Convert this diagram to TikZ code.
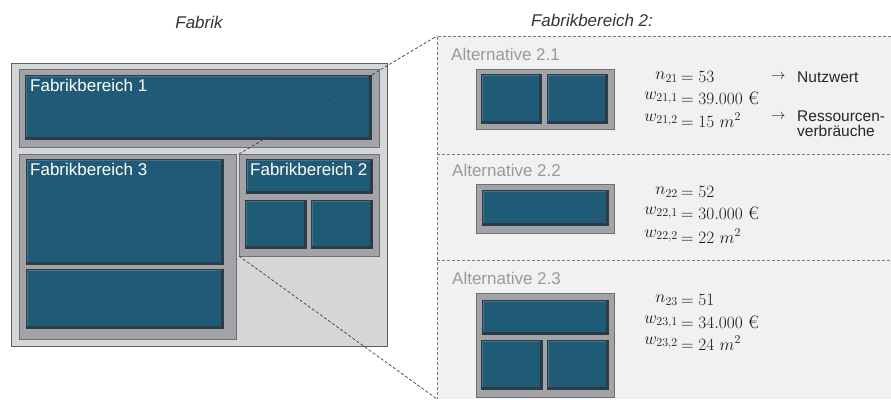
\documentclass[tikz,border=0pt]{standalone}
\usepackage{fontspec}
\newfontfamily\arial{Liberation Sans}
\definecolor{factbg}{HTML}{D5D6D8}
\definecolor{factdraw}{HTML}{5E5F62}
\definecolor{framefill}{HTML}{A2A3A7}
\definecolor{framedraw}{HTML}{6F7074}
\definecolor{tileblue}{HTML}{1F5A76}
\definecolor{tiledark}{HTML}{2E3A44}
\definecolor{tilelight}{HTML}{3E7490}
\definecolor{panelbg}{HTML}{F1F1F1}
\definecolor{altgray}{HTML}{9A9A9A}
\definecolor{dashgray}{HTML}{7A7A7A}
\newcommand\tile[4]{%
  \fill[tiledark] (#1,#2) rectangle (#3,#4);
  \fill[tilelight] ({#1+1},{#2+1}) rectangle ({#3-3},{#4-3});
  \fill[tileblue] ({#1+2},{#2+2}) rectangle ({#3-3},{#4-3});
}
\newcommand\frm[4]{%
  \filldraw[fill=framefill, draw=framedraw, line width=0.8pt] (#1,#2) rectangle (#3,#4);
}
\newcommand\mrow[4]{% y, lhs, rhs, name
  \node[anchor=east, inner sep=0pt, mtext] (#4l) at (678,#1) {$#2$};
  \node[anchor=west, inner sep=0pt, mtext] (#4r) at (681,#1) {$=#3$};
}
\tikzset{
  mtext/.style={font=\fontsize{18}{21}\selectfont, text=black!90},
  flabel/.style={font=\arial\fontsize{17}{20}\selectfont, text=white, anchor=west, inner sep=0pt},
  alabel/.style={font=\arial\fontsize{17}{20}\selectfont, text=altgray, anchor=west, inner sep=0pt},
  title/.style={font=\arial\itshape\fontsize{17}{20}\selectfont, text=black!80, inner sep=0pt},
  note/.style={font=\arial\fontsize{15.5}{17}\selectfont, text=black!85, anchor=west, inner sep=0pt},
  zoomline/.style={draw=black!75, line width=0.7pt, dash pattern=on 3pt off 2pt},
  panelline/.style={draw=dashgray, line width=0.6pt, dash pattern=on 3pt off 2pt},
}
\begin{document}
\begin{tikzpicture}[x=1pt,y=-1pt]
\useasboundingbox (0,0) rectangle (891,399);
% titles
\node[title] (tfab) at (199,22) {Fabrik};
\node[title] (tfb2) at (592,20) {Fabrikbereich 2:};
% right panel
\fill[panelbg] (437,36) rectangle (891,399);
\draw[panelline] (891,36) -- (437,36) -- (437,399);
\draw[panelline] (437,154) -- (891,154);
\draw[panelline] (437,260) -- (891,260);
% factory
\filldraw[fill=factbg, draw=factdraw, line width=0.8pt] (11,63) rectangle (387,346);
% Fabrikbereich 1
\frm{19}{69}{379}{147}
\tile{25}{75}{372}{140}
\node[flabel] (fb1) at (30,85) {Fabrikbereich 1};
% Fabrikbereich 3
\frm{19}{154}{236}{339}
\tile{26}{159}{224}{265}
\tile{26}{269}{224}{329}
\node[flabel] (fb3) at (30,169) {Fabrikbereich 3};
% Fabrikbereich 2
\frm{239}{154}{379}{256}
\tile{246}{159}{373}{194}
\tile{245}{200}{307}{249}
\tile{311}{200}{373}{249}
\node[flabel] (fb2) at (250,169) {Fabrikbereich 2};
\coordinate (fb2tl) at (239,154);
\coordinate (fb2bl) at (239,256);
\coordinate (ptl) at (437,36);
\coordinate (pbl) at (437,399);
\draw[zoomline] (fb2tl) -- (ptl);
\draw[zoomline] (fb2bl) -- (pbl);
% Alternative 2.1
\node[alabel] (a21) at (451,54) {Alternative 2.1};
\frm{476}{69}{614}{129}
\tile{481}{74}{542}{124}
\tile{547}{74}{608}{124}
\mrow{77}{n_{21}}{53}{r211}
\mrow{98}{w_{21,1}}{39.000\ \mbox{\rmfamily €}}{r212}
\mrow{120}{w_{21,2}}{15\ m^2}{r213}
\node[note] (ar1) at (771,77) {$\rightarrow$};
\node[note] (nw) at (797,77) {Nutzwert};
\node[note] (ar2) at (771,117) {$\rightarrow$};
\node[note] (rv1) at (797,116) {Ressourcen-};
\node[note] (rv2) at (797,131) {verbräuche};
% Alternative 2.2
\node[alabel] (a22) at (452,170) {Alternative 2.2};
\frm{476}{184}{614}{233}
\tile{482}{190}{609}{226}
\mrow{192}{n_{22}}{52}{r221}
\mrow{213}{w_{22,1}}{30.000\ \mbox{\rmfamily €}}{r222}
\mrow{236}{w_{22,2}}{22\ m^2}{r223}
% Alternative 2.3
\node[alabel] (a23) at (452,278) {Alternative 2.3};
\frm{476}{293}{614}{397}
\tile{482}{300}{609}{335}
\tile{481}{340}{543}{390}
\tile{547}{340}{609}{390}
\mrow{300}{n_{23}}{51}{r231}
\mrow{322}{w_{23,1}}{34.000\ \mbox{\rmfamily €}}{r232}
\mrow{343}{w_{23,2}}{24\ m^2}{r233}
\end{tikzpicture}
\end{document}
